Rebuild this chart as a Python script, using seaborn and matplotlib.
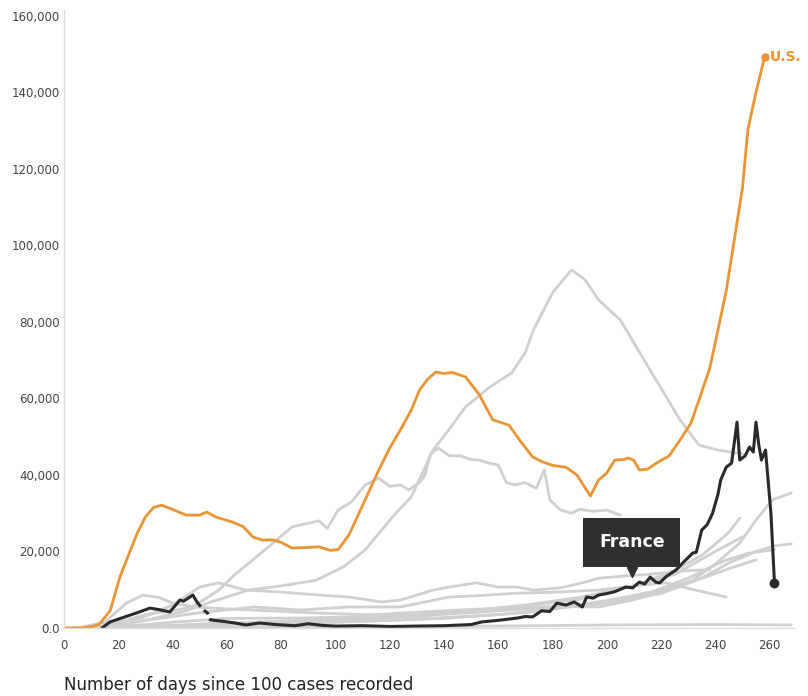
import numpy as np
import pandas as pd
import seaborn as sns
import matplotlib.pyplot as plt
from matplotlib.ticker import FuncFormatter

# Colours
us_color = '#EA9433'
fr_color = '#2a2a2a'
gray_color = '#d0d0d0'

# U.S. daily cases (7-day avg) by days since 100 cases
us_days = [0, 5, 10, 13, 17, 20.6, 24, 27, 30, 33, 36, 40, 45, 50, 52.6, 56, 62, 66, 69.6, 73,
           77, 80, 84, 88, 94, 98, 101, 105, 110, 116, 120, 124, 128, 131, 134, 137, 140, 143,
           148, 153, 158, 164, 168, 172.7, 176, 180, 185, 189, 192.6, 194, 197, 200, 203, 206,
           208, 210, 212, 215, 219, 223, 227, 231, 234, 238, 241, 244, 247, 250, 252, 255, 258.2]
us_vals = [0, 0, 300, 1000, 4500, 13300, 19500, 24800, 29000, 31500, 32100, 31000, 29500, 29500,
           30300, 29000, 27700, 26500, 23800, 23000, 23000, 22400, 20900, 21000, 21200, 20300,
           20500, 24300, 32000, 41300, 47000, 51800, 57000, 62200, 65000, 66900, 66500, 66800,
           65600, 61000, 54400, 53000, 49000, 44700, 43500, 42500, 42000, 40000, 36000, 34500,
           38700, 40500, 43900, 44000, 44400, 43800, 41300, 41500, 43400, 45000, 49100, 53500,
           59600, 68000, 77900, 88000, 101400, 115000, 130200, 140000, 149300]

# France
fr_days_a = [14, 17, 22, 27, 31.7, 35, 39, 42.7, 44, 47.5, 49]
fr_vals_a = [0, 1600, 2800, 4000, 5200, 4800, 4200, 7300, 7000, 8600, 6800]
fr_days_gap = [49, 51, 53, 54]
fr_vals_gap = [6800, 5000, 3800, 2100]
fr_days_b = [54, 58, 63, 67, 72, 78, 85, 90, 95, 100, 110, 120, 130, 140, 150, 154, 160, 167,
             170, 172.7, 176, 179, 181.6, 185, 188, 191, 192.6, 195, 197, 200, 203, 207, 209.6,
             212, 214, 216, 218, 219.5, 222, 225.6, 228, 231.7, 233, 235, 237, 239, 241, 242,
             244, 246, 248, 249, 251, 252.6, 254, 255, 256, 257, 258.5, 260.5, 261.8]
fr_vals_b = [2100, 1800, 1300, 800, 1300, 900, 600, 1100, 700, 500, 600, 400, 500, 600, 900,
             1600, 2000, 2600, 3000, 2900, 4500, 4300, 6500, 6000, 6800, 5500, 8100, 7800, 8600,
             9000, 9500, 10700, 10500, 12000, 11500, 13300, 12000, 11800, 13500, 15200, 17000,
             19600, 19800, 25600, 27000, 30000, 35000, 38700, 42000, 43100, 53800, 43900, 45000,
             47300, 46000, 53800, 48000, 43900, 46500, 30000, 11800]

# Other countries (gray)
g1_days = [0, 15, 30, 45, 55, 68, 80, 93, 103, 111, 121, 128, 136, 142, 148, 157, 165, 170, 173,
           180, 187, 192, 197, 205, 216, 227, 234, 241, 250]
g1_vals = [0, 300, 2000, 4500, 7000, 9900, 11000, 12500, 16000, 20400, 29000, 34300, 46500,
           52000, 57800, 63000, 66700, 72000, 77900, 87600, 93600, 91000, 85700, 80500, 67400,
           54400, 47800, 46500, 45500]
g2_days = [10, 20, 30, 40, 47.5, 57, 63, 69.6, 77, 84, 90, 94, 97, 101, 106, 111, 116, 120,
           124, 127, 131, 133, 135, 138, 142, 146, 150, 153, 157, 160, 163, 166, 170, 174, 177,
           179, 183, 187, 190, 195, 200, 205]
g2_vals = [0, 1500, 3500, 4500, 5500, 9900, 14000, 17800, 22200, 26400, 27400, 28000, 26000,
           30800, 33000, 37400, 39200, 37000, 37400, 36100, 38000, 40000, 45500, 47000, 45000,
           45000, 44000, 43900, 43000, 42600, 38000, 37400, 38000, 36500, 41300, 33500, 30800,
           30000, 31000, 30500, 30800, 29500]
g3_days = [5, 15, 23, 29, 35, 40, 48, 60, 75, 90, 110, 130, 150, 170, 190, 210, 225, 240, 250]
g3_vals = [0, 1500, 6500, 8600, 8000, 6500, 5500, 5000, 4500, 4000, 3500, 3500, 4500, 6000,
           8000, 11000, 14000, 20000, 23800]
g4_days = [10, 20, 30, 40, 50, 57, 67, 80, 94, 105, 117, 124, 136, 142, 152, 160, 167, 173,
           183, 191, 197, 205, 215, 222, 230, 238]
g4_vals = [0, 1000, 3000, 6000, 10700, 11800, 9900, 9400, 8600, 8100, 6800, 7300, 9900, 10700,
           11800, 10700, 10700, 9900, 10500, 11800, 13000, 13500, 14000, 14500, 15000, 15200]
g5_days = [15, 30, 50, 70, 87, 105, 124, 142, 154, 167, 179, 197, 210, 222, 232, 244]
g5_vals = [0, 2000, 4000, 5500, 4700, 5500, 5500, 8100, 8500, 9100, 9300, 9900, 11000, 11800,
           10000, 8100]
g6_days = [15, 40, 60, 87, 105, 124, 140, 160, 180, 197, 209.6, 222, 231.7, 240.5, 249, 255,
           261, 268]
g6_vals = [0, 1500, 2500, 2600, 2900, 3900, 4500, 5200, 5600, 5500, 7300, 9900, 12500, 17000,
           22200, 28200, 33500, 35300]
g7_days = [20, 50, 90, 130, 160, 190, 210, 225, 235, 240.5, 245, 249]
g7_vals = [0, 1000, 2000, 3000, 5000, 7500, 11000, 15000, 19000, 22200, 25000, 28700]
g8_days = [25, 60, 100, 140, 170, 200, 220, 235, 245, 255]
g8_vals = [0, 800, 1500, 2500, 4000, 7000, 10000, 13000, 15500, 17800]
g9_days = [40, 100, 160, 200, 240, 268]
g9_vals = [0, 300, 500, 800, 900, 800]
g10_days = [30, 70, 120, 160, 200, 220, 235, 245, 255, 262, 268]
g10_vals = [0, 1000, 2000, 3500, 6500, 9000, 13000, 17000, 20000, 21500, 22000]
g11_days = [20, 60, 110, 150, 190, 215, 230, 243, 252, 262]
g11_vals = [0, 1200, 2500, 4000, 6000, 9000, 13000, 17500, 19500, 20500]

grays = [(g1_days, g1_vals), (g2_days, g2_vals), (g3_days, g3_vals), (g4_days, g4_vals),
         (g5_days, g5_vals), (g6_days, g6_vals), (g7_days, g7_vals), (g8_days, g8_vals),
         (g9_days, g9_vals), (g10_days, g10_vals), (g11_days, g11_vals)]

y_ticks = [0, 20000, 40000, 60000, 80000, 100000, 120000, 140000, 160000]
x_ticks = list(range(0, 261, 20))

sns.set_style('white')
plt.rcParams['font.family'] = ['DejaVu Sans']

fig = plt.figure(figsize=(8.08, 6.96), dpi=100)
ax = fig.add_axes([64 / 808, 1 - 628 / 696, 730 / 808, 618 / 696])

# Gray background countries
for d, v in grays:
    sns.lineplot(x=d, y=v, color=gray_color, lw=2.0, sort=False, estimator=None, ax=ax)

# U.S.
sns.lineplot(x=us_days, y=us_vals, color=us_color, lw=2.0, sort=False, estimator=None, ax=ax)
ax.plot(us_days[-1], us_vals[-1], 'o', color=us_color, ms=5)
ax.annotate('U.S.', (us_days[-1], us_vals[-1]), xytext=(3.5, 0), textcoords='offset points',
            color=us_color, fontsize=10, fontweight='bold', va='center', ha='left')

# France
sns.lineplot(x=fr_days_a, y=fr_vals_a, color=fr_color, lw=2.2, sort=False, estimator=None, ax=ax)
sns.lineplot(x=fr_days_gap, y=fr_vals_gap, color=fr_color, lw=2.2, sort=False, estimator=None,
             ax=ax, linestyle=(0, (2, 1.5)))
sns.lineplot(x=fr_days_b, y=fr_vals_b, color=fr_color, lw=2.2, sort=False, estimator=None, ax=ax)
ax.plot(fr_days_b[-1], fr_vals_b[-1], 'o', color=fr_color, ms=6)

# Tooltip for France
ax.text(209.2, 22400, 'France', color='white', fontsize=12.5, fontweight='bold',
        ha='center', va='center',
        bbox=dict(boxstyle='square,pad=0.9', fc='#2f2f2f', ec='none'))
ax.plot(209.2, 14600, marker='v', color='#2f2f2f', ms=7)

# Axes styling
ax.set_xlim(0, 269)
ax.set_ylim(0, 161500)
ax.set_xticks(x_ticks)
ax.set_yticks(y_ticks)
ax.yaxis.set_major_formatter(FuncFormatter(lambda v, p: '0.0' if v == 0 else f'{int(v):,}'))
ax.tick_params(axis='both', length=0, labelsize=8.5, labelcolor='#444444')
ax.tick_params(axis='y', pad=3)
ax.tick_params(axis='x', pad=8)
for s in ['top', 'right']:
    ax.spines[s].set_visible(False)
for s in ['left', 'bottom']:
    ax.spines[s].set_color('#dddddd')
    ax.spines[s].set_linewidth(1.0)
ax.set_xlabel('')
ax.set_ylabel('')

fig.text(64 / 808, 1 - 685 / 696, 'Number of days since 100 cases recorded',
         fontsize=12, color='#222222', ha='left', va='center')

fig.savefig('out.png', dpi=100, facecolor='white')
